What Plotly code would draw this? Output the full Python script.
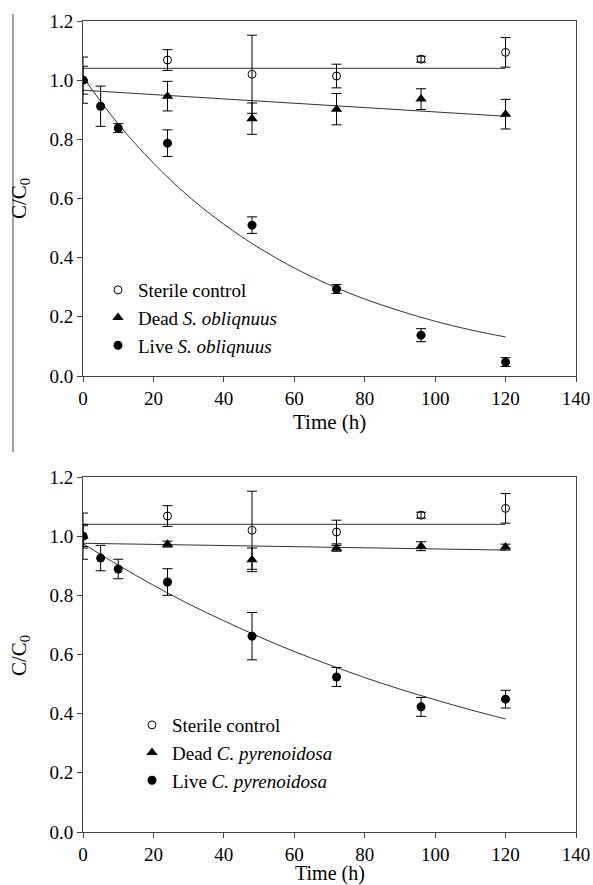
import plotly.graph_objects as go

# ---------------- data ----------------
time_pts = [0, 5, 10, 24, 48, 72, 96, 120]
ctrl_time = [0, 24, 48, 72, 96, 120]

# Sterile control (same in both panels)
sterile_val = [1.0, 1.068, 1.02, 1.014, 1.071, 1.094]
sterile_err = [0.078, 0.035, 0.132, 0.04, 0.01, 0.05]

# Panel A: S. obliqnuus
deadS_val = [1.0, 0.946, 0.870, 0.902, 0.936, 0.885]
deadS_err = [0.047, 0.05, 0.053, 0.053, 0.035, 0.05]
liveS_val = [1.0, 0.912, 0.838, 0.787, 0.510, 0.294, 0.138, 0.047]
liveS_err = [0.0, 0.068, 0.015, 0.045, 0.028, 0.015, 0.022, 0.015]

# Panel B: C. pyrenoidosa
deadC_val = [1.0, 0.973, 0.920, 0.959, 0.966, 0.963]
deadC_err = [0.035, 0.01, 0.04, 0.01, 0.015, 0.01]
liveC_val = [1.0, 0.926, 0.889, 0.845, 0.662, 0.524, 0.423, 0.449]
liveC_err = [0.04, 0.043, 0.033, 0.045, 0.08, 0.032, 0.032, 0.03]

# fitted lines
fit_time = [0, 10, 20, 30, 40, 50, 60, 70, 80, 90, 100, 110, 120]
fit_liveS = [1.010, 0.852, 0.720, 0.607, 0.513, 0.433, 0.365, 0.308, 0.260, 0.220, 0.185, 0.156, 0.132]
fit_liveC = [0.975, 0.902, 0.834, 0.771, 0.714, 0.660, 0.610, 0.565, 0.522, 0.483, 0.447, 0.413, 0.382]
line_time = [0, 120]
fit_sterile = [1.04, 1.04]
fit_deadS = [0.966, 0.878]
fit_deadC = [0.976, 0.953]

x_ticks = [0, 20, 40, 60, 80, 100, 120, 140]
y_ticks = [0.0, 0.2, 0.4, 0.6, 0.8, 1.0, 1.2]

FONT = "Liberation Serif, Times New Roman, serif"
BLACK = "black"
LINEC = "#333333"

fig = go.Figure()

def add_panel(xa, ya, legend, dead_val, dead_err, live_val, live_err,
              fit_dead, fit_live, name):
    # fitted lines
    for xs, ys in [(line_time, fit_sterile), (line_time, fit_dead), (fit_time, fit_live)]:
        fig.add_trace(go.Scatter(x=xs, y=ys, mode="lines", xaxis=xa, yaxis=ya,
                                 line=dict(color=LINEC, width=1, shape="spline"),
                                 showlegend=False, hoverinfo="skip"))
    fig.add_trace(go.Scatter(
        x=ctrl_time, y=sterile_val, mode="markers", xaxis=xa, yaxis=ya,
        name="Sterile control", legend=legend, legendgroup=legend + "a",
        marker=dict(symbol="circle-open", size=8, color=BLACK, line=dict(width=1, color=BLACK)),
        error_y=dict(type="data", array=sterile_err, color=BLACK, thickness=1, width=5)))
    fig.add_trace(go.Scatter(
        x=ctrl_time, y=dead_val, mode="markers", xaxis=xa, yaxis=ya,
        name="Dead <i>" + name + "</i>", legend=legend, legendgroup=legend + "b",
        marker=dict(symbol="triangle-up", size=10, color=BLACK),
        error_y=dict(type="data", array=dead_err, color=BLACK, thickness=1, width=5)))
    fig.add_trace(go.Scatter(
        x=time_pts, y=live_val, mode="markers", xaxis=xa, yaxis=ya,
        name="Live <i>" + name + "</i>", legend=legend, legendgroup=legend + "c",
        marker=dict(symbol="circle", size=9, color=BLACK),
        error_y=dict(type="data", array=live_err, color=BLACK, thickness=1, width=5)))

add_panel("x", "y", "legend", deadS_val, deadS_err, liveS_val, liveS_err,
          fit_deadS, fit_liveS, "S. obliqnuus")
add_panel("x2", "y2", "legend2", deadC_val, deadC_err, liveC_val, liveC_err,
          fit_deadC, fit_liveC, "C. pyrenoidosa")

axis_common = dict(showgrid=False, zeroline=False, showline=True, linecolor="#444444",
                   linewidth=1, mirror=True, ticks="outside", ticklen=5,
                   tickcolor="#444444", tickwidth=1, automargin=False,
                   tickfont=dict(family=FONT, size=19, color=BLACK))

x_ax = dict(axis_common, range=[0, 140], tickvals=x_ticks, ticktext=[str(v) for v in x_ticks])
y_ax = dict(axis_common, range=[0, 1.2], tickvals=y_ticks,
            ticktext=["%.1f" % v for v in y_ticks])

top_dom = [456 / 811, 1.0]
bot_dom = [0.0, 355 / 811]

legend_common = dict(font=dict(family=FONT, size=19, color=BLACK), bgcolor="rgba(0,0,0,0)",
                     borderwidth=0, tracegroupgap=0, itemwidth=30,
                     xanchor="left", yanchor="top", xref="paper", yref="paper")

# positions below are in window pixels (page body margin removed)
def px_x(px):
    return (px - 83) / 493

def px_y(py):
    return (832 - py) / 811

fig.update_layout(
    template="none",
    width=593, height=885,
    margin=dict(l=83, r=17, t=21, b=53, autoexpand=False),
    paper_bgcolor="white", plot_bgcolor="white",
    font=dict(family=FONT, size=20, color=BLACK),
    xaxis=dict(x_ax, domain=[0, 1], anchor="y"),
    yaxis=dict(y_ax, domain=top_dom, anchor="x"),
    xaxis2=dict(x_ax, domain=[0, 1], anchor="y2"),
    yaxis2=dict(y_ax, domain=bot_dom, anchor="x2"),
    legend=dict(legend_common, x=px_x(98), y=px_y(271)),
    legend2=dict(legend_common, x=px_x(132), y=px_y(706)),
    showlegend=True,
)

annos = [
    dict(text="Time (h)", x=0.5, y=px_y(422), font_size=21),
    dict(text="Time (h)", x=0.5, y=px_y(874), font_size=20),
    dict(text="C/C<sub>0</sub>", x=px_x(20), y=px_y(198), textangle=-90, font_size=21),
    dict(text="C/C<sub>0</sub>", x=px_x(20), y=px_y(655), textangle=-90, font_size=21),
]
for a in annos:
    fs = a.pop("font_size")
    fig.add_annotation(xref="paper", yref="paper", showarrow=False,
                       xanchor="center", yanchor="middle",
                       font=dict(family=FONT, size=fs, color=BLACK), **a)

# stray page-border line from the scanned original
fig.add_shape(type="line", xref="paper", yref="paper",
              x0=px_x(13), x1=px_x(13), y0=px_y(14), y1=px_y(452),
              line=dict(color="#444444", width=1))

fig.write_html(
    "out.html",
    config={"displayModeBar": False},
    post_script="document.body.style.margin='0';"
                "document.documentElement.style.overflow='hidden';"
                "document.body.style.overflow='hidden';",
)
